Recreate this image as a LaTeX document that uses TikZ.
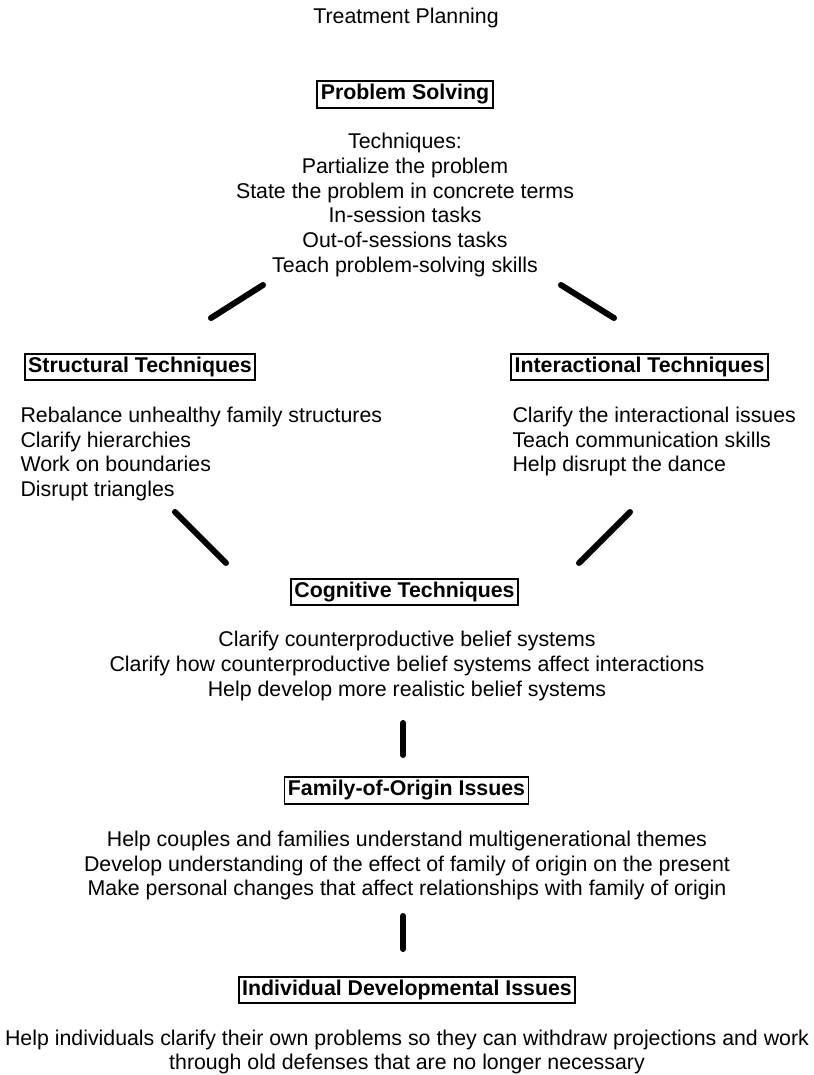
\documentclass[tikz,border=0pt]{standalone}
\usepackage{fontspec}
\setmainfont{Liberation Sans}

\tikzset{every picture/.style={line width=0.75pt}}
\tikzset{
  bodytext/.style={font=\fontsize{16}{18.5}\selectfont},
  headbox/.style={draw, line width=1.4pt, font=\fontsize{16}{18.5}\selectfont\bfseries,
    text height=11.6pt, text depth=3.4pt, inner xsep=2.6pt, inner ysep=2.4pt},
  bar/.style={line width=4.5pt, line cap=round}
}

\begin{document}
\begin{tikzpicture}[x=0.75pt,y=0.75pt,yscale=-1,xscale=1]
\useasboundingbox (0,0) rectangle (814,1075);

% Text Node
\node (title) at (406,18) [bodytext] {Treatment Planning};

% Text Node
\node (psbox) at (405,94.5) [headbox] {Problem Solving};
% Text Node
\node (pslist) at (405,205) [bodytext, align=center] {Techniques:\\Partialize the problem\\State the problem in concrete terms\\In-session tasks\\Out-of-sessions tasks\\Teach problem-solving skills};

% Text Node
\node (stbox) at (140,367) [headbox] {Structural Techniques};
% Text Node
\node (stlist) at (20,454) [bodytext, align=left, anchor=west, inner sep=0pt] {Rebalance unhealthy family structures\\Clarify hierarchies\\Work on boundaries\\Disrupt triangles};

% Text Node
\node (itbox) at (639.5,367) [headbox] {Interactional Techniques};
% Text Node
\node (itlist) at (512,441.5) [bodytext, align=left, anchor=west, inner sep=0pt] {Clarify the interactional issues\\Teach communication skills\\Help disrupt the dance};

% Text Node
\node (cgbox) at (404.5,592) [headbox] {Cognitive Techniques};
% Text Node
\node (cglist) at (407,666) [bodytext, align=center] {Clarify counterproductive belief systems\\Clarify how counterproductive belief systems affect interactions\\Help develop more realistic belief systems};

% Text Node
\node (fobox) at (406.5,790.5) [headbox] {Family-of-Origin Issues};
% Text Node
\node (folist) at (407,865.5) [bodytext, align=center] {Help couples and families understand multigenerational themes\\Develop understanding of the effect of family of origin on the present\\Make personal changes that affect relationships with family of origin};

% Text Node
\node (idbox) at (407,990) [headbox] {Individual Developmental Issues};
% Text Node
\node (idlist) at (407,1052) [bodytext, align=center] {Help individuals clarify their own problems so they can withdraw projections and work\\through old defenses that are no longer necessary};

%Straight Lines
\coordinate (psL) at (263,285);
\coordinate (stU) at (211,318);
\draw [bar] (psL) -- (stU);
\coordinate (psR) at (561,285);
\coordinate (itU) at (614,318);
\draw [bar] (psR) -- (itU);

%Straight Lines
\coordinate (stD) at (175,512);
\coordinate (cgL) at (226,563);
\draw [bar] (stD) -- (cgL);
\coordinate (itD) at (630,512);
\coordinate (cgR) at (579,563);
\draw [bar] (itD) -- (cgR);

%Straight Lines
\coordinate (cgD) at (403,723);
\coordinate (foU) at (403,755);
\draw [bar] (cgD) -- (foU);
\coordinate (foD) at (403,916);
\coordinate (idU) at (403,949);
\draw [bar] (foD) -- (idU);

\end{tikzpicture}
\end{document}
